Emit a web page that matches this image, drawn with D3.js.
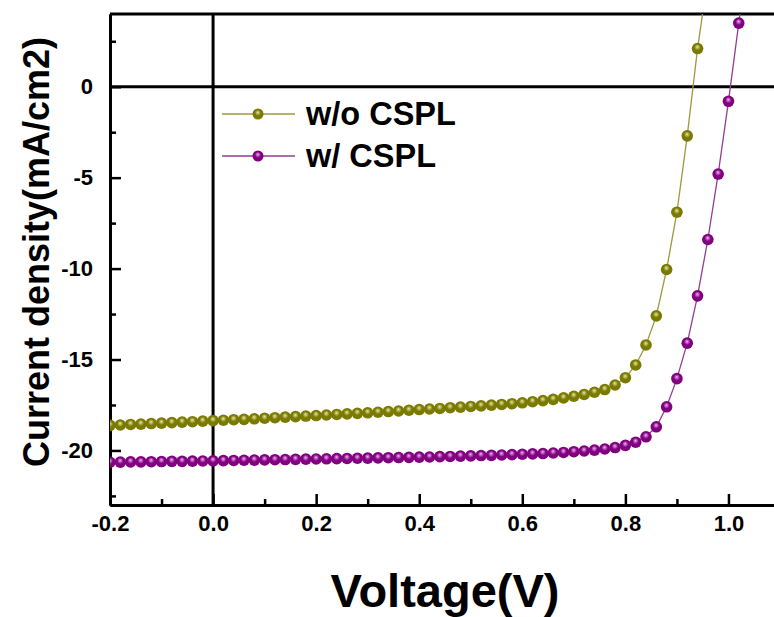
<!DOCTYPE html>
<html>
<head>
<meta charset="utf-8">
<script src="https://cdn.jsdelivr.net/npm/d3@7"></script>
<style>
  body { margin: 0; background: #fff; }
  text { font-family: "Liberation Sans", Arial, sans-serif; font-weight: bold; }
</style>
</head>
<body>
<div id="chart"></div>
<script>
// voltage steps (V), shared by both curves
const voltage = [-0.20, -0.18, -0.16, -0.14, -0.12, -0.10, -0.08, -0.06, -0.04, -0.02,
    0.00, 0.02, 0.04, 0.06, 0.08, 0.10, 0.12, 0.14, 0.16, 0.18,
    0.20, 0.22, 0.24, 0.26, 0.28, 0.30, 0.32, 0.34, 0.36, 0.38,
    0.40, 0.42, 0.44, 0.46, 0.48, 0.50, 0.52, 0.54, 0.56, 0.58,
    0.60, 0.62, 0.64, 0.66, 0.68, 0.70, 0.72, 0.74, 0.76, 0.78,
    0.80, 0.82, 0.84, 0.86, 0.88, 0.90, 0.92, 0.94, 0.96, 0.98,
    1.00, 1.02, 1.04];

// current density, mA/cm2
const withoutCSPL = [-18.62, -18.60, -18.57, -18.55, -18.52, -18.50, -18.47, -18.44, -18.42, -18.39,
    -18.36, -18.34, -18.31, -18.29, -18.26, -18.23, -18.20, -18.17, -18.14, -18.11,
    -18.08, -18.05, -18.02, -17.99, -17.96, -17.93, -17.90, -17.86, -17.83, -17.79,
    -17.75, -17.72, -17.69, -17.65, -17.62, -17.58, -17.55, -17.51, -17.47, -17.43,
    -17.38, -17.32, -17.26, -17.19, -17.11, -17.02, -16.92, -16.80, -16.65, -16.40,
    -16.00, -15.30, -14.20, -12.60, -10.05, -6.90, -2.70, 2.10, 6.00];

const withCSPL = [-20.65, -20.64, -20.63, -20.63, -20.62, -20.61, -20.60, -20.60, -20.59, -20.58,
    -20.57, -20.56, -20.55, -20.54, -20.53, -20.52, -20.51, -20.50, -20.49, -20.48,
    -20.47, -20.46, -20.45, -20.44, -20.43, -20.42, -20.41, -20.40, -20.39, -20.38,
    -20.37, -20.36, -20.34, -20.33, -20.31, -20.30, -20.28, -20.27, -20.25, -20.23,
    -20.21, -20.19, -20.17, -20.14, -20.11, -20.07, -20.03, -19.98, -19.92, -19.84,
    -19.72, -19.55, -19.25, -18.70, -17.60, -16.05, -14.10, -11.50, -8.40, -4.80,
    -0.80, 3.50, 8.00];

const seriesNames = ["w/o CSPL", "w/ CSPL"];
const xTicks = [-0.2, 0.0, 0.2, 0.4, 0.6, 0.8, 1.0];
const yTicks = [0, -5, -10, -15, -20];

const series = [
    { name: seriesNames[0], values: withoutCSPL, dark: "#7a7a00", light: "#e6e6a8", line: "#9a9a40" },
    { name: seriesNames[1], values: withCSPL, dark: "#800080", light: "#f4b0f4", line: "#933d93" }
];

const width = 774, height = 617;
const plotLeft = 110, plotTop = 14, plotBottom = 505, plotRight = 780;

const x = d3.scaleLinear().domain([-0.2, 1.1]).range([plotLeft, plotRight]);
const y = d3.scaleLinear().domain([-23, 4]).range([plotBottom, plotTop]);

// plain hyphen for negatives, as in the original
const hyphen = f => d => f(d).replace("\u2212", "-");

const svg = d3.select("#chart").append("svg")
    .attr("width", width)
    .attr("height", height);

const defs = svg.append("defs");
defs.append("clipPath").attr("id", "plot-clip")
    .append("rect")
    .attr("x", plotLeft).attr("y", plotTop)
    .attr("width", plotRight - plotLeft).attr("height", plotBottom - plotTop);

series.forEach((s, i) => {
    const g = defs.append("radialGradient")
        .attr("id", "ball" + i)
        .attr("cx", "50%").attr("cy", "45%").attr("r", "60%")
        .attr("fx", "48%").attr("fy", "35%");
    g.append("stop").attr("offset", "0%").attr("stop-color", s.light);
    g.append("stop").attr("offset", "45%").attr("stop-color", s.dark);
    g.append("stop").attr("offset", "100%").attr("stop-color", s.dark);
});

// zero lines
svg.append("line")
    .attr("x1", plotLeft).attr("x2", plotRight)
    .attr("y1", y(0)).attr("y2", y(0))
    .attr("stroke", "#000").attr("stroke-width", 3);
svg.append("line")
    .attr("x1", x(0)).attr("x2", x(0))
    .attr("y1", plotTop).attr("y2", plotBottom)
    .attr("stroke", "#000").attr("stroke-width", 3);

// top frame
svg.append("line")
    .attr("x1", plotLeft).attr("x2", plotRight)
    .attr("y1", plotTop).attr("y2", plotTop)
    .attr("stroke", "#000").attr("stroke-width", 3);

// axes, ticks pointing inward
const yMinor = svg.append("g")
    .attr("transform", `translate(${plotLeft},0)`)
    .call(d3.axisLeft(y).tickValues(d3.range(2.5, -23, -5)).tickSizeInner(-6).tickSizeOuter(0).tickFormat(""));
const yAxis = svg.append("g")
    .attr("transform", `translate(${plotLeft},0)`)
    .call(d3.axisLeft(y).tickValues(yTicks).tickSizeInner(-11).tickSizeOuter(0).tickPadding(17)
        .tickFormat(hyphen(d3.format("d"))));

const xMinor = svg.append("g")
    .attr("transform", `translate(0,${plotBottom})`)
    .call(d3.axisBottom(x).tickValues(d3.range(-0.1, 1.11, 0.2)).tickSizeInner(-6).tickSizeOuter(0).tickFormat(""));
const xAxis = svg.append("g")
    .attr("transform", `translate(0,${plotBottom})`)
    .call(d3.axisBottom(x).tickValues(xTicks).tickSizeInner(-11).tickSizeOuter(0).tickPadding(10)
        .tickFormat(hyphen(d3.format(".1f"))));

[yMinor, yAxis, xMinor, xAxis].forEach(a => {
    a.select(".domain").attr("stroke", "#000").attr("stroke-width", 3);
    a.selectAll(".tick line").attr("stroke", "#000").attr("stroke-width", 2.5);
    a.selectAll("text")
        .attr("font-size", 22)
        .attr("font-family", "'Liberation Sans', Arial, sans-serif")
        .attr("font-weight", "bold")
        .attr("fill", "#000");
});

// curves
const plot = svg.append("g").attr("clip-path", "url(#plot-clip)");
series.forEach((s, i) => {
    const pts = s.values.map((v, k) => [voltage[k], v]);
    plot.append("path")
        .datum(pts)
        .attr("fill", "none")
        .attr("stroke", s.line)
        .attr("stroke-width", 1.3)
        .attr("d", d3.line().x(d => x(d[0])).y(d => y(d[1])));
    plot.append("g")
        .selectAll("circle")
        .data(pts)
        .enter()
        .append("circle")
        .attr("cx", d => x(d[0]))
        .attr("cy", d => y(d[1]))
        .attr("r", 5.8)
        .attr("fill", `url(#ball${i})`);
});

// legend
const legendY = [114, 156];
series.forEach((s, i) => {
    const lg = svg.append("g").attr("transform", `translate(0,${legendY[i]})`);
    lg.append("line")
        .attr("x1", 222).attr("x2", 295)
        .attr("stroke", s.line).attr("stroke-width", 1.3);
    lg.append("circle")
        .attr("cx", 258).attr("r", 5.5)
        .attr("fill", `url(#ball${i})`);
    lg.append("text")
        .attr("x", 306).attr("y", 11)
        .attr("font-size", 32.5)
        .text(s.name);
});

// axis titles
svg.append("text")
    .attr("transform", `translate(${x(0.45)},607)`)
    .attr("text-anchor", "middle")
    .attr("font-size", 47)
    .text("Voltage(V)");

svg.append("text")
    .attr("transform", "translate(49,252) rotate(-90)")
    .attr("text-anchor", "middle")
    .attr("font-size", 36)
    .text("Current density(mA/cm2)");
</script>
</body>
</html>
